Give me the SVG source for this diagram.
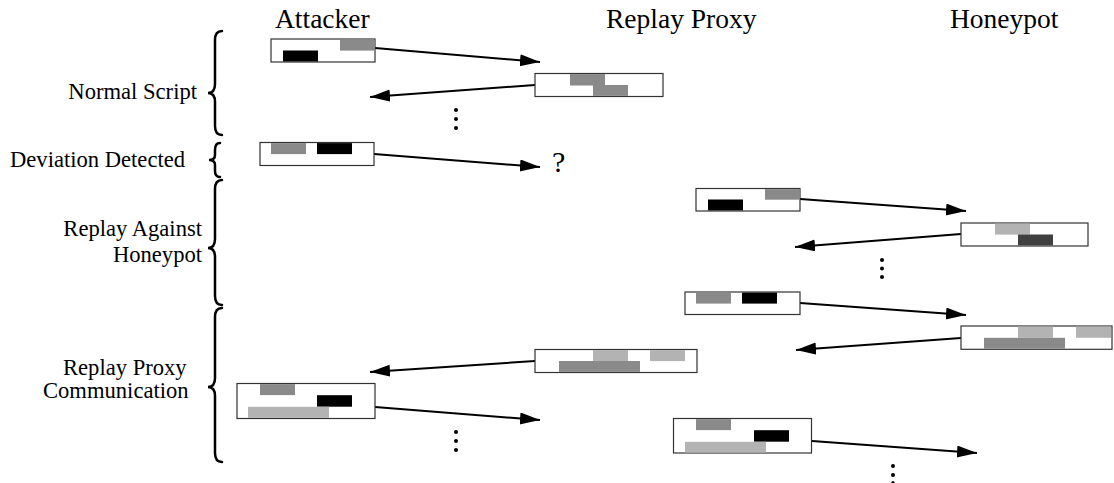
<svg xmlns="http://www.w3.org/2000/svg" width="1114" height="483" viewBox="0 0 1114 483">
<style>
.hdr{font-family:"Liberation Serif","Times New Roman",serif;font-size:27.5px;fill:#000}
.lbl{font-family:"Liberation Serif","Times New Roman",serif;font-size:22.6px;fill:#000}
.q{font-family:"Liberation Serif","Times New Roman",serif;font-size:30px;fill:#000}
.box{fill:#fff;stroke:#333;stroke-width:1.2}
.m{fill:#8a8a8a}
.k{fill:#000}
.l{fill:#b3b3b3}
.d{fill:#404040}
.arr{stroke:#000;stroke-width:2;fill:none;marker-end:url(#ah)}
.brace{fill:none;stroke:#000;stroke-width:2.5;stroke-linecap:round}
.dot{fill:#000}
</style>
<defs>
<marker id="ah" markerUnits="userSpaceOnUse" markerWidth="22" markerHeight="14" refX="20" refY="6" orient="auto" viewBox="0 0 22 14">
<path d="M0,0 L20,6 L0,12 z" fill="#000"/>
</marker>
</defs>

<g id="headers">
<text class="hdr" x="275" y="28">Attacker</text>
<text class="hdr" x="606" y="28">Replay Proxy</text>
<text class="hdr" x="950" y="28">Honeypot</text>
</g>

<g id="labels">
<text class="lbl" x="197" y="99" text-anchor="end">Normal Script</text>
<text class="lbl" x="10" y="167">Deviation Detected</text>
<text class="lbl" x="202" y="236" text-anchor="end">Replay Against</text>
<text class="lbl" x="202" y="262" text-anchor="end">Honeypot</text>
<text class="lbl" x="63" y="375">Replay Proxy</text>
<text class="lbl" x="43" y="398">Communication</text>
</g>

<g id="braces">
<path class="brace" d="M222,31 Q215,31 215,40 L215,84 Q215,93 208,93 Q215,93 215,102 L215,126 Q215,135 222,135"/>
<path class="brace" d="M220,143 Q215,143 215,150 L215,155 Q215,160 209,160 Q215,160 215,165 L215,171 Q215,177 220,177"/>
<path class="brace" d="M222,180 Q215,180 215,189 L215,239 Q215,248 208,248 Q215,248 215,257 L215,296 Q215,305 222,305"/>
<path class="brace" d="M222,308 Q215,308 215,317 L215,378 Q215,387 208,387 Q215,387 215,396 L215,453 Q215,462 222,462"/>
</g>

<g id="connectors">
<path class="arr" d="M375,48 L540,62"/>
<path class="arr" d="M535,85 L370,97"/>
<path class="arr" d="M374,154 L540,167"/>
<path class="arr" d="M800,199 L966,211"/>
<path class="arr" d="M961,234 L795,247"/>
<path class="arr" d="M800,303 L966,315"/>
<path class="arr" d="M961,338 L796,350"/>
<path class="arr" d="M535,361 L370,372"/>
<path class="arr" d="M375,407 L540,420"/>
<path class="arr" d="M812,441 L977,453"/>
</g>

<g id="msg1">
<rect class="box" x="271" y="39" width="104" height="23"/>
<rect class="m" x="340" y="39.6" width="34.4" height="11"/>
<rect class="k" x="283" y="50.5" width="35" height="11"/>
</g>
<g id="msg2">
<rect class="box" x="535" y="73.5" width="128" height="23"/>
<rect class="m" x="570" y="74.1" width="35" height="11.4"/>
<rect class="m" x="593" y="85" width="35" height="10.9"/>
</g>
<g id="msg3">
<rect class="box" x="260" y="142.5" width="114" height="23"/>
<rect class="m" x="271" y="143.1" width="35" height="11"/>
<rect class="k" x="317" y="143.1" width="35" height="11"/>
</g>
<g id="question">
<text class="q" x="552" y="172">?</text>
</g>
<g id="msg4">
<rect class="box" x="696" y="188.5" width="104" height="22.5"/>
<rect class="m" x="765" y="189.1" width="34.4" height="10.6"/>
<rect class="k" x="708" y="199.5" width="35" height="10.9"/>
</g>
<g id="msg5">
<rect class="box" x="961" y="223" width="127" height="23"/>
<rect class="l" x="995" y="223.6" width="35" height="11"/>
<rect class="d" x="1018" y="234.5" width="35" height="10.9"/>
</g>
<g id="msg6">
<rect class="box" x="685" y="292" width="115" height="22.5"/>
<rect class="m" x="696" y="292.6" width="35" height="11"/>
<rect class="k" x="742" y="292.6" width="35" height="11"/>
</g>
<g id="msg7">
<rect class="box" x="961" y="326" width="151" height="23.3"/>
<rect class="l" x="1018" y="326.6" width="35" height="11.2"/>
<rect class="l" x="1076" y="326.6" width="35" height="11.2"/>
<rect class="m" x="984" y="337.8" width="81" height="10.9"/>
</g>
<g id="msg8">
<rect class="box" x="535" y="349.5" width="162" height="23"/>
<rect class="l" x="593" y="350.1" width="35" height="11"/>
<rect class="l" x="650" y="350.1" width="35" height="11"/>
<rect class="m" x="559" y="361" width="81" height="10.9"/>
</g>
<g id="msg9">
<rect class="box" x="237" y="383.5" width="138" height="35"/>
<rect class="m" x="260" y="384.1" width="35" height="11"/>
<rect class="k" x="317" y="395.2" width="35" height="11.5"/>
<rect class="l" x="248" y="406.8" width="81" height="11.1"/>
</g>
<g id="msg10">
<rect class="box" x="673.5" y="418.5" width="138" height="34.5"/>
<rect class="m" x="696" y="419.1" width="35" height="11"/>
<rect class="k" x="754" y="430.2" width="35" height="11.5"/>
<rect class="l" x="685" y="441.8" width="81" height="10.8"/>
</g>

<g id="ellipses">
<circle class="dot" cx="456" cy="110" r="2"/>
<circle class="dot" cx="456" cy="119" r="2"/>
<circle class="dot" cx="456" cy="128" r="2"/>
<circle class="dot" cx="882" cy="260" r="2"/>
<circle class="dot" cx="882" cy="268.5" r="2"/>
<circle class="dot" cx="882" cy="277" r="2"/>
<circle class="dot" cx="456" cy="432" r="2"/>
<circle class="dot" cx="456" cy="441" r="2"/>
<circle class="dot" cx="456" cy="450" r="2"/>
<circle class="dot" cx="893" cy="466" r="2"/>
<circle class="dot" cx="893" cy="475" r="2"/>
<circle class="dot" cx="893" cy="482.5" r="1.6"/>
</g>
</svg>
